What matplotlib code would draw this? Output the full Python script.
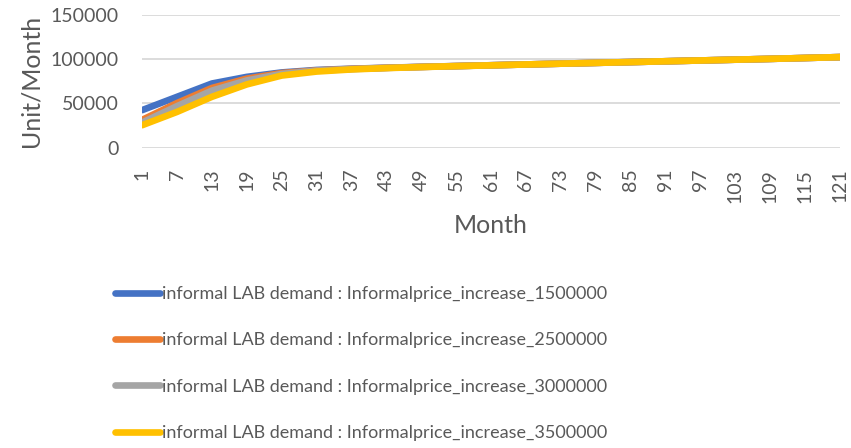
import matplotlib
matplotlib.use("Agg")
import matplotlib.pyplot as plt

plt.rcParams["font.family"] = ["Lato", "DejaVu Sans"]

# Values every 6 months
months = [1, 7, 13, 19, 25, 31, 37, 43, 49, 55, 61, 67, 73, 79, 85, 91, 97, 103, 109, 115, 121]
demand_1500000 = [42500, 57500, 72500, 80000, 85000, 87800, 89200, 90300, 91300, 92200, 93100,
                  94000, 94900, 95800, 96700, 97600, 98500, 99400, 100300, 101300, 102300]
demand_2500000 = [31500, 50500, 67500, 78000, 84300, 87300, 89000, 90200, 91200, 92200, 93100,
                  94000, 94900, 95800, 96700, 97600, 98500, 99400, 100300, 101300, 102300]
demand_3000000 = [28500, 47000, 64500, 76000, 83300, 87000, 88800, 90100, 91200, 92100, 93100,
                  94000, 94900, 95800, 96700, 97600, 98500, 99400, 100300, 101300, 102300]
demand_3500000 = [25500, 40500, 57500, 71500, 81500, 86000, 88400, 89900, 91100, 92100, 93000,
                  94000, 94900, 95800, 96700, 97600, 98500, 99400, 100300, 101300, 102300]

series = [
    ("informal LAB demand : Informalprice_increase_1500000", demand_1500000, "#4472C4"),
    ("informal LAB demand : Informalprice_increase_2500000", demand_2500000, "#ED7D31"),
    ("informal LAB demand : Informalprice_increase_3000000", demand_3000000, "#A5A5A5"),
    ("informal LAB demand : Informalprice_increase_3500000", demand_3500000, "#FFC000"),
]

text_color = "#595959"

fig = plt.figure(figsize=(8.51, 4.48), dpi=100)
ax = fig.add_axes([0.167, 0.670, 0.820, 0.297])

for label, values, color in series:
    ax.plot(months, values, color=color, lw=4.8, label=label, solid_capstyle="round")

ax.set_xlim(1, 121)
ax.set_ylim(0, 150000)
ax.set_yticks([0, 50000, 100000, 150000])
ax.set_xticks(months)
ax.set_xticklabels([str(m) for m in months], rotation=90)
ax.tick_params(length=0, labelsize=14, colors=text_color)
ax.tick_params(axis="y", pad=17)
ax.tick_params(axis="x", pad=15)
ax.grid(axis="y", color="#D9D9D9", lw=1.3)
ax.set_axisbelow(True)
for s in ax.spines.values():
    s.set_visible(False)

ax.set_ylabel("Unit/Month", fontsize=18, color=text_color, labelpad=6)
ax.set_xlabel("Month", fontsize=18, color=text_color, labelpad=8)

leg = fig.legend(loc="upper left", bbox_to_anchor=(0.116, 0.398), frameon=False,
                 fontsize=13, handlelength=2.5, handletextpad=0.1, labelspacing=1.68,
                 labelcolor=text_color)
for line in leg.get_lines():
    line.set_linewidth(4.8)

fig.savefig("out.png", dpi=100)
